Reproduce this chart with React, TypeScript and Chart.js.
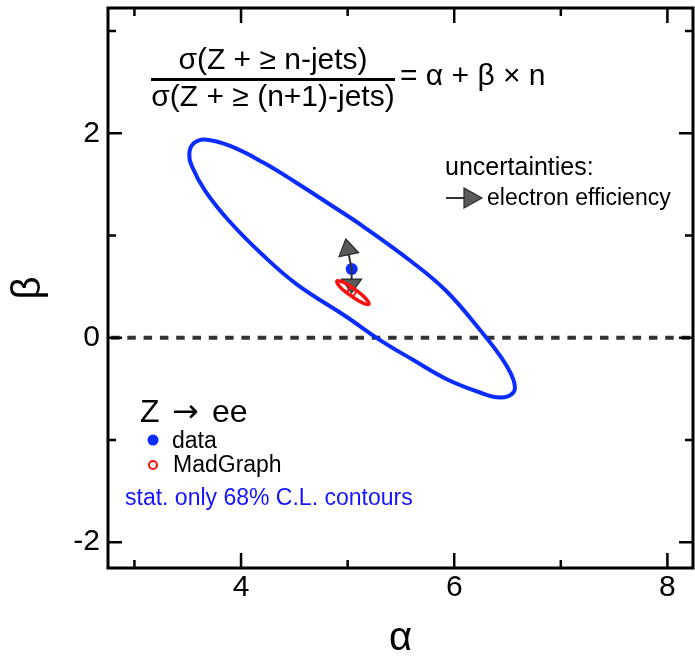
import React, { useEffect, useRef } from "react";
import Chart from "chart.js/auto";

// ---- axis ranges & tick labels ----
const ALPHA_MIN = 2.752;
const ALPHA_MAX = 8.24;
const BETA_MIN = -2.253;
const BETA_MAX = 3.226;
const X_TICK_LABELS = [4, 6, 8];
const Y_TICK_LABELS = [-2, 0, 2];

// ---- data: stat-only 68% C.L. contour of the data (blue) ----
const statAlpha = [3.662, 3.897, 4.209, 4.523, 4.835, 5.147, 5.616, 5.93, 6.25, 6.444, 6.556, 6.555, 6.43, 6.242, 5.93, 5.616, 5.304, 4.992, 4.523, 4.209, 3.897, 3.662, 3.536, 3.515, 3.554];
const statBeta = [1.939, 1.876, 1.714, 1.514, 1.303, 1.088, 0.731, 0.452, 0.066, -0.198, -0.414, -0.536, -0.585, -0.536, -0.406, -0.218, -0.023, 0.203, 0.523, 0.804, 1.132, 1.44, 1.685, 1.804, 1.9];

// ---- MadGraph 68% C.L. contour (red) ----
const mgAlpha = [5.2, 5.169, 5.107, 5.03, 4.955, 4.909, 4.9, 4.931, 4.992, 5.069, 5.14, 5.187];
const mgBeta = [0.329, 0.328, 0.359, 0.411, 0.47, 0.523, 0.554, 0.554, 0.525, 0.473, 0.414, 0.361];

// ---- best-fit points ----
const dataAlpha = [5.038];
const dataBeta = [0.672];
const mgPointAlpha = [5.038];
const mgPointBeta = [0.45];

// ---- electron efficiency shifts (arrow tips) ----
const shiftAlpha = [4.982, 5.037];
const shiftBeta = [0.966, 0.437];

const FONT = "'Liberation Sans', Arial, Helvetica, sans-serif";
const BLUE = "#0a2cff";
const RED = "#ff1010";

function closedLoop(xs: number[], ys: number[]) {
  const n = xs.length;
  const idx = [n - 1, ...xs.map((_, i) => i), 0, 1];
  return idx.map((i) => ({ x: xs[i], y: ys[i] }));
}

function loopSegment(color: string, n: number) {
  return {
    borderColor: (ctx: any) =>
      ctx.p0DataIndex === 0 || ctx.p0DataIndex === n + 1 ? "rgba(0,0,0,0)" : color,
  };
}

const isInt = (v: number) => Math.abs(v - Math.round(v)) < 1e-6;

export default function App() {
  const ref = useRef<HTMLCanvasElement>(null);

  useEffect(() => {
    const canvas = ref.current!;
    const decor = {
      id: "decor",
      afterDatasetDraw(chart: any, args: any) {
        if (args.index !== 3) return;
        const ctx = chart.ctx;
        const xs = chart.scales.x;
        const ys = chart.scales.y;
        const x0 = xs.getPixelForValue(dataAlpha[0]);
        const y0 = ys.getPixelForValue(dataBeta[0]);
        const heads = [16, 14];
        ctx.save();
        for (let i = 0; i < shiftAlpha.length; i++) {
          const x1 = xs.getPixelForValue(shiftAlpha[i]);
          const y1 = ys.getPixelForValue(shiftBeta[i]);
          const dx = x1 - x0, dy = y1 - y0;
          const L = Math.hypot(dx, dy);
          const ux = dx / L, uy = dy / L;
          const hl = heads[i], hw = 10;
          const bx = x1 - ux * hl, by = y1 - uy * hl;
          ctx.strokeStyle = "#333";
          ctx.lineWidth = 2;
          ctx.beginPath();
          ctx.moveTo(x0, y0);
          ctx.lineTo(bx, by);
          ctx.stroke();
          ctx.beginPath();
          ctx.moveTo(x1, y1);
          ctx.lineTo(bx - uy * hw, by + ux * hw);
          ctx.lineTo(bx + uy * hw, by - ux * hw);
          ctx.closePath();
          ctx.fillStyle = "#5a5a5a";
          ctx.fill();
          ctx.lineWidth = 1.2;
          ctx.strokeStyle = "#2a2a2a";
          ctx.stroke();
        }
        ctx.restore();
      },
      beforeDatasetsDraw(chart: any) {
        const ctx = chart.ctx;
        const { left, right } = chart.chartArea;
        const y = chart.scales.y.getPixelForValue(0);
        ctx.save();
        ctx.strokeStyle = "#333";
        ctx.lineWidth = 4;
        ctx.setLineDash([8.5, 7.8]);
        ctx.beginPath();
        ctx.moveTo(left + 3, y);
        ctx.lineTo(right, y);
        ctx.stroke();
        ctx.restore();
      },
      afterDraw(chart: any) {
        const ctx = chart.ctx;
        const { left, right, top, bottom } = chart.chartArea;
        const xs = chart.scales.x;
        const ys = chart.scales.y;
        ctx.save();
        // ticks (inward)
        ctx.strokeStyle = "#000";
        ctx.lineWidth = 2.5;
        ctx.beginPath();
        xs.ticks.forEach((t: any) => {
          const p = xs.getPixelForValue(t.value);
          const len = X_TICK_LABELS.includes(Math.round(t.value)) ? 15 : 8;
          ctx.moveTo(p, bottom);
          ctx.lineTo(p, bottom - len);
          ctx.moveTo(p, top);
          ctx.lineTo(p, top + len);
        });
        ys.ticks.forEach((t: any) => {
          const p = ys.getPixelForValue(t.value);
          const len = Y_TICK_LABELS.includes(Math.round(t.value)) ? 14 : 8;
          ctx.moveTo(left, p);
          ctx.lineTo(left + len, p);
          ctx.moveTo(right, p);
          ctx.lineTo(right - len, p);
        });
        ctx.stroke();
        // frame
        ctx.lineWidth = 3;
        ctx.strokeRect(left, top, right - left, bottom - top);

        // formula
        ctx.fillStyle = "#000";
        ctx.textBaseline = "middle";
        ctx.textAlign = "center";
        ctx.font = `30px ${FONT}`;
        ctx.fillText("σ(Z + ≥ n-jets)", 273, 61);
        ctx.fillText("σ(Z + ≥ (n+1)-jets)", 273, 98);
        ctx.fillRect(151, 78, 244, 3);
        ctx.textAlign = "left";
        ctx.fillText("= α + β × n", 400, 77);

        // uncertainties legend
        ctx.textBaseline = "alphabetic";
        ctx.font = `25px ${FONT}`;
        ctx.fillText("uncertainties:", 445, 175);
        ctx.font = `23px ${FONT}`;
        ctx.fillText("electron efficiency", 487, 205);
        ctx.strokeStyle = "#333";
        ctx.lineWidth = 2;
        ctx.beginPath();
        ctx.moveTo(446, 198);
        ctx.lineTo(465, 198);
        ctx.stroke();
        ctx.beginPath();
        ctx.moveTo(482, 198);
        ctx.lineTo(464, 188);
        ctx.lineTo(464, 208);
        ctx.closePath();
        ctx.fillStyle = "#5a5a5a";
        ctx.fill();
        ctx.lineWidth = 1.2;
        ctx.strokeStyle = "#2a2a2a";
        ctx.stroke();

        // Z -> ee legend
        ctx.fillStyle = "#000";
        ctx.font = `32px ${FONT}`;
        ctx.fillText("Z", 140, 422);
        ctx.fillText("ee", 212, 422);
        ctx.font = `32px 'DejaVu Sans', sans-serif`;
        ctx.fillText("→", 172, 422);
        ctx.font = `23px ${FONT}`;
        ctx.fillText("data", 172, 448);
        ctx.fillText("MadGraph", 173, 472);
        ctx.fillStyle = BLUE;
        ctx.beginPath();
        ctx.arc(153, 440, 5.5, 0, Math.PI * 2);
        ctx.fill();
        ctx.strokeStyle = RED;
        ctx.lineWidth = 2;
        ctx.beginPath();
        ctx.arc(153, 465, 4, 0, Math.PI * 2);
        ctx.stroke();
        ctx.fillStyle = "#1414ff";
        ctx.fillText("stat. only 68% C.L. contours", 125, 505);
        ctx.restore();
      },
    };

    const zeroPad = (s: any) => {
      s.paddingTop = 0;
      s.paddingBottom = 0;
      s.paddingLeft = 0;
      s.paddingRight = 0;
    };

    const chart = new Chart(canvas, {
      type: "scatter",
      data: {
        datasets: [
          {
            data: closedLoop(statAlpha, statBeta),
            showLine: true,
            borderColor: BLUE,
            borderWidth: 4,
            pointRadius: 0,
            tension: 0.4,
            fill: false,
            segment: loopSegment(BLUE, statAlpha.length),
          } as any,
          {
            data: closedLoop(mgAlpha, mgBeta),
            showLine: true,
            borderColor: RED,
            borderWidth: 3.5,
            pointRadius: 0,
            tension: 0.4,
            fill: false,
            segment: loopSegment(RED, mgAlpha.length),
          } as any,
          {
            data: mgPointAlpha.map((x, i) => ({ x, y: mgPointBeta[i] })),
            pointRadius: 4,
            pointBackgroundColor: "rgba(0,0,0,0)",
            pointBorderColor: RED,
            pointBorderWidth: 2,
          },
          {
            data: [] as any[],
            pointRadius: 0,
          },
          {
            data: dataAlpha.map((x, i) => ({ x, y: dataBeta[i] })),
            pointRadius: 6,
            pointBackgroundColor: BLUE,
            pointBorderColor: BLUE,
            pointBorderWidth: 0,
          },
        ],
      },
      options: {
        animation: false,
        responsive: false,
        devicePixelRatio: 1,
        events: [],
        layout: { autoPadding: false, padding: { top: 8, right: 2, left: 0, bottom: 0 } },
        plugins: { legend: { display: false }, tooltip: { enabled: false }, title: { display: false } },
        scales: {
          x: {
            type: "linear",
            min: ALPHA_MIN,
            max: ALPHA_MAX,
            grid: { display: false, drawTicks: false },
            border: { display: false },
            ticks: {
              stepSize: 1,
              includeBounds: false,
              autoSkip: false,
              maxRotation: 0,
              padding: 5,
              color: "#000",
              font: { family: FONT, size: 30, lineHeight: 1 },
              callback: (v: any) => (isInt(v) && X_TICK_LABELS.includes(Math.round(v)) ? String(Math.round(v)) : ""),
            },
            title: {
              display: true,
              text: "α",
              color: "#000",
              font: { family: FONT, size: 40, lineHeight: 1 },
              padding: { top: 0, bottom: 0 },
            },
            afterFit: (s: any) => {
              s.height = 91;
              zeroPad(s);
            },
          },
          y: {
            type: "linear",
            min: BETA_MIN,
            max: BETA_MAX,
            grid: { display: false, drawTicks: false },
            border: { display: false },
            ticks: {
              stepSize: 1,
              includeBounds: false,
              autoSkip: false,
              padding: 8,
              color: "#000",
              font: { family: FONT, size: 30, lineHeight: 1 },
              callback: (v: any) => (isInt(v) && Y_TICK_LABELS.includes(Math.round(v)) ? String(Math.round(v)) : ""),
            },
            title: {
              display: true,
              text: "β",
              color: "#000",
              font: { family: FONT, size: 40, lineHeight: 1 },
              padding: { top: 9, bottom: 0 },
            },
            afterFit: (s: any) => {
              s.width = 108;
              zeroPad(s);
            },
          },
        },
      },
      plugins: [decor],
    });
    return () => chart.destroy();
  }, []);

  return (
    <div style={{ position: "absolute", left: 0, top: 0, width: 695, height: 659, background: "#fff" }}>
      <canvas ref={ref} width={695} height={659} style={{ display: "block" }} />
    </div>
  );
}
